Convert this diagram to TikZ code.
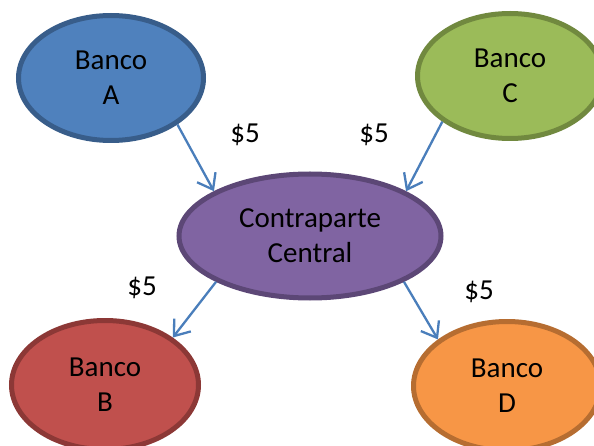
\documentclass[tikz,border=0pt]{standalone}
\usepackage{fontspec}
\setmainfont{Carlito}
\usetikzlibrary{shapes.geometric,arrows.meta}
\definecolor{afill}{HTML}{4F81BD}\definecolor{aline}{HTML}{385D8A}
\definecolor{cfill}{HTML}{9BBB59}\definecolor{cline}{HTML}{71893F}
\definecolor{mfill}{HTML}{8064A2}\definecolor{mline}{HTML}{5C4776}
\definecolor{bfill}{HTML}{C0504D}\definecolor{bline}{HTML}{8C3836}
\definecolor{dfill}{HTML}{F79646}\definecolor{dline}{HTML}{B66D31}
\definecolor{arr}{HTML}{4A7EBB}
\tikzset{
  bank/.style={ellipse, line width=5pt, inner sep=0pt, align=center,
    font=\fontsize{29}{35}\selectfont, text=black},
  flow/.style={draw=arr, line width=2.3pt, -{Straight Barb[length=14pt,width=21pt,line width=2.3pt]}},
  amt/.style={font=\fontsize{29}{35}\selectfont, text=black, inner sep=0pt}
}
\begin{document}
\begin{tikzpicture}[x=1pt,y=-1pt]
\useasboundingbox (0,0) rectangle (594,446);
\clip (0,0) rectangle (594,446);
\node[bank, draw=aline, fill=afill, minimum width=185pt, minimum height=125pt] (A) at (111,78) {Banco\\A};
\node[bank, draw=cline, fill=cfill, minimum width=185pt, minimum height=125pt] (C) at (510,76) {Banco\\C};
\node[bank, draw=mline, fill=mfill, minimum width=262pt, minimum height=124pt] (M) at (310,236) {Contraparte\\Central};
\node[bank, draw=bline, fill=bfill, minimum width=187pt, minimum height=129pt] (B) at (105,385) {Banco\\B};
\node[bank, draw=dline, fill=dfill, minimum width=187pt, minimum height=129pt] (D) at (507,386) {Banco\\D};
\draw[flow] (A.-35) -- (M.155);
\draw[flow] (C.214) -- (M.25);
\draw[flow] (M.206) -- (B.35);
\draw[flow] (M.-26) -- (D.146);
\node[amt] (l1) at (245,135) {\$5};
\node[amt] (l2) at (374,135) {\$5};
\node[amt] (l3) at (142,288) {\$5};
\node[amt] (l4) at (479,292) {\$5};
\end{tikzpicture}
\end{document}
